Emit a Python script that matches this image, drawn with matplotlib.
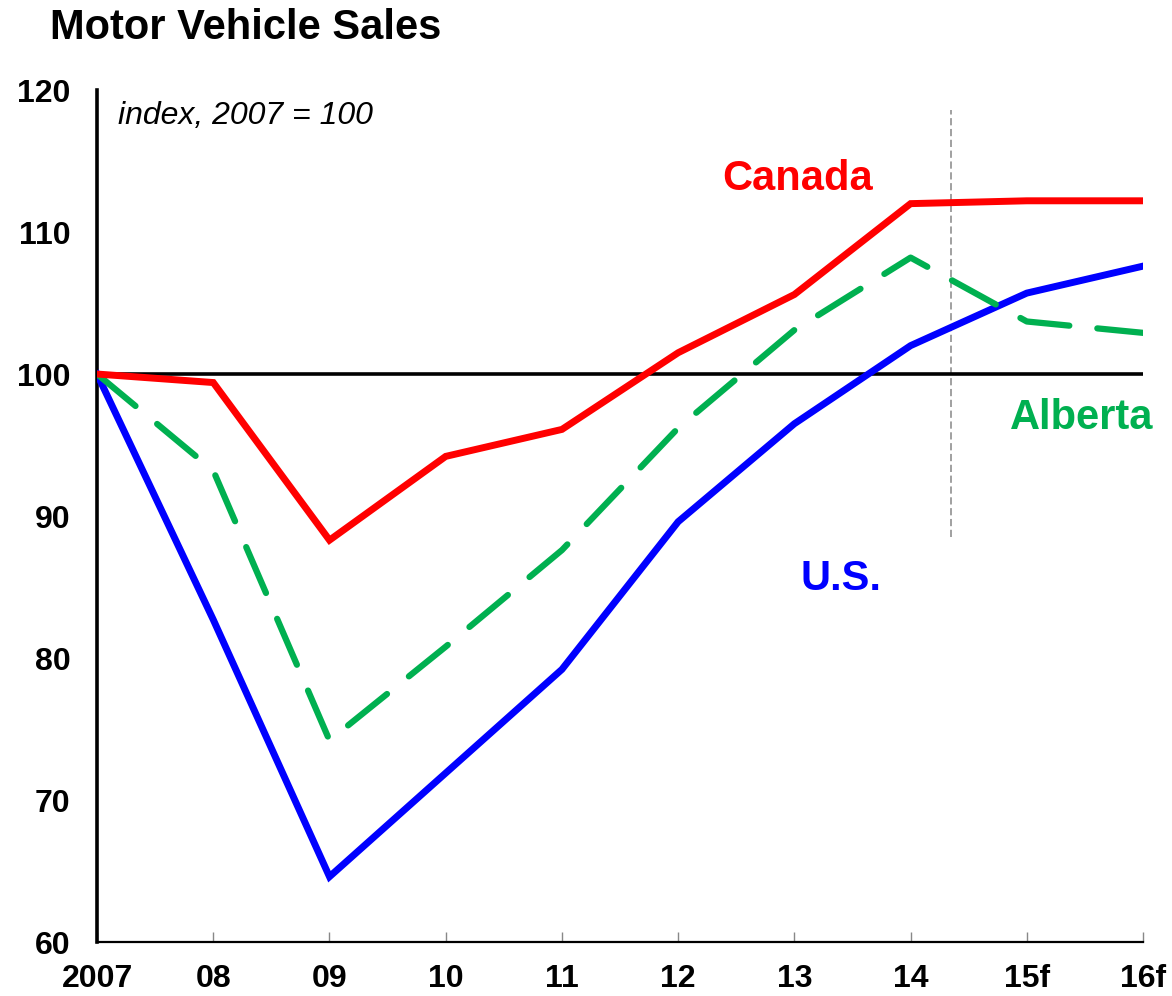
import matplotlib.pyplot as plt

plt.rcParams['font.family'] = ['Liberation Sans', 'DejaVu Sans']

# data, index 2007 = 100
years = ['2007', '08', '09', '10', '11', '12', '13', '14', '15f', '16f']
canada = [100.0, 99.4, 88.3, 94.2, 96.1, 101.5, 105.6, 112.0, 112.2, 112.2]
us = [100.0, 82.7, 64.6, 71.9, 79.2, 89.6, 96.5, 102.0, 105.7, 107.6]
alberta = [100.0, 93.2, 74.2, 80.8, 87.6, 96.2, 103.1, 108.2, 103.7, 102.9]
forecast_line = 7.35

x = list(range(len(years)))

fig = plt.figure(figsize=(11.72, 9.96), dpi=100)
ax = fig.add_axes([0.0828, 0.0542, 0.8925, 0.8554])

ax.axhline(100, color='black', lw=2.6, zorder=2)
ax.plot([forecast_line, forecast_line], [88.5, 118.6], color='#999999', lw=1.3,
        ls=(0, (4, 2)), zorder=1)

ax.plot(x, us, color='#0000FF', lw=5.0, zorder=3, solid_joinstyle='miter')
ax.plot(x, alberta, color='#00B050', lw=4.5, zorder=4, ls=(0, (8, 4.5)),
        dash_capstyle='round')
ax.plot(x, canada, color='#FF0000', lw=5.0, zorder=5, solid_joinstyle='miter')

ax.set_xlim(0, 9)
ax.set_ylim(60, 120)
ax.set_xticks(x)
ax.set_xticklabels(years)
ax.set_yticks([60, 70, 80, 90, 100, 110, 120])

ax.tick_params(axis='x', direction='in', length=7, color='#888888', width=1,
               pad=16, labelsize=23)
ax.tick_params(axis='y', direction='in', length=0, pad=19, labelsize=23)
for lab in ax.get_xticklabels() + ax.get_yticklabels():
    lab.set_fontweight('bold')

for s in ['top', 'right']:
    ax.spines[s].set_visible(False)
ax.spines['left'].set_linewidth(2.6)
ax.spines['bottom'].set_linewidth(1.6)

ax.text(0.18, 118.2, 'index, 2007 = 100', fontsize=23, style='italic', va='center')
ax.text(6.03, 113.7, 'Canada', color='#FF0000', fontsize=30, fontweight='bold',
        ha='center', va='center')
ax.text(8.47, 96.9, 'Alberta', color='#00B050', fontsize=30, fontweight='bold',
        ha='center', va='center')
ax.text(6.4, 85.6, 'U.S.', color='#0000FF', fontsize=30, fontweight='bold',
        ha='center', va='center')

fig.text(0.043, 0.972, 'Motor Vehicle Sales', fontsize=30, fontweight='bold',
         va='center')

fig.savefig('out.png', dpi=100)
